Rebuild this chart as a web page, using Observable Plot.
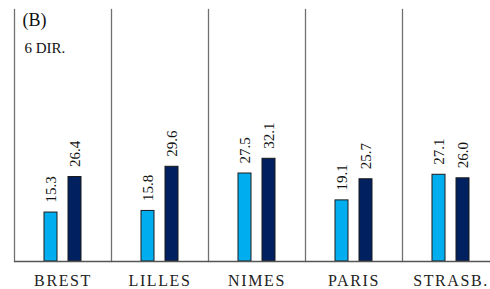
<!DOCTYPE html>
<html>
<head>
<meta charset="utf-8">
<script src="https://cdn.jsdelivr.net/npm/d3@7"></script>
<script src="https://cdn.jsdelivr.net/npm/@observablehq/plot@0.6"></script>
<style>
  html, body { margin: 0; padding: 0; background: #fff; overflow: hidden; }
  #chart { width: 490px; height: 289px; overflow: hidden; }
  #chart svg { max-width: none !important; height: 289px !important; width: 501px !important; }
  #chart svg, #chart svg text { font-family: "Liberation Serif", "Times New Roman", serif !important; }
  #chart g[aria-label="fx-axis tick label"] text { letter-spacing: 1.6px; }
</style>
</head>
<body>
<div id="chart"></div>
<script>
const cities = ["BREST", "LILLES", "NIMES", "PARIS", "STRASB."];
const seriesA = [15.3, 15.8, 27.5, 19.1, 27.1];
const seriesB = [26.4, 29.6, 32.1, 25.7, 26.0];
const seriesNames = ["A", "B"];
const panelLabel = "(B)";
const panelSubLabel = "6 DIR.";

const data = [];
cities.forEach((c, i) => {
  data.push({city: c, s: "A", v: seriesA[i]});
  data.push({city: c, s: "B", v: seriesB[i]});
});

const chart = Plot.plot({
  width: 501,
  height: 289,
  marginTop: 9,
  marginBottom: 28,
  marginLeft: 12,
  marginRight: 0,
  style: {fontFamily: "Liberation Serif, serif", fontSize: "16px", color: "#222", background: "#fff"},
  fx: {domain: cities, padding: 0, label: null, tickSize: 0, tickPadding: 13},
  x: {domain: seriesNames, paddingInner: 0.44, paddingOuter: 1.176, axis: null},
  y: {domain: [0, 78.75], axis: null},
  color: {domain: seriesNames, range: ["#00aeef", "#002060"]},
  marks: [
    Plot.frame({anchor: "left", stroke: "#707070", strokeWidth: 1.3}),
    Plot.barY(data, {fx: "city", x: "s", y: "v", fill: "s", stroke: "#1a1a1a", strokeWidth: 1}),
    Plot.text(data, {fx: "city", x: "s", y: "v", text: d => d.v.toFixed(1), rotate: -90, textAnchor: "start", dy: -10, fontSize: 15, fill: "#111"}),
    Plot.ruleY([0], {stroke: "#555", strokeWidth: 1.3}),
    Plot.text([{city: "BREST"}], {fx: "city", frameAnchor: "top-left", text: () => panelLabel, textAnchor: "start", lineAnchor: "bottom", dx: 8, dy: 16, fontSize: 18, fill: "#111"}),
    Plot.text([{city: "BREST"}], {fx: "city", frameAnchor: "top-left", text: () => panelSubLabel, textAnchor: "start", lineAnchor: "bottom", dx: 10, dy: 43, fontSize: 15, fill: "#111"})
  ]
});
document.getElementById("chart").appendChild(chart);
</script>
</body>
</html>
